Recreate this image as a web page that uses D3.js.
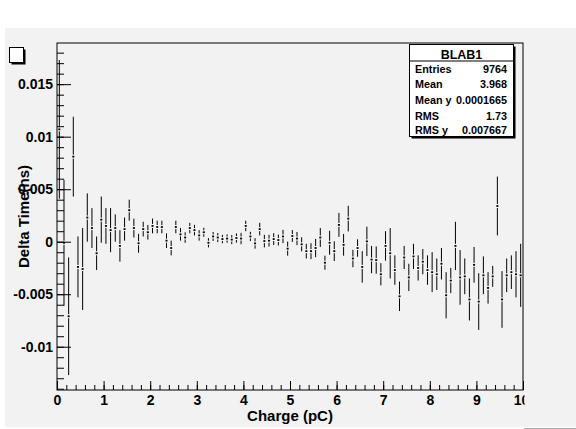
<!DOCTYPE html>
<html><head><meta charset="utf-8">
<script src="https://cdn.jsdelivr.net/npm/d3@7"></script>
<style>body{margin:0;background:#fff}svg{display:block}</style>
</head><body><svg id="c" width="576" height="429"></svg>
<script>
// ---- data ----
const binCenters = [0.05,0.15,0.25,0.35,0.45,0.55,0.65,0.75,0.85,0.95,
1.05,1.15,1.25,1.35,1.45,1.55,1.65,1.75,1.85,1.95,
2.05,2.15,2.25,2.35,2.45,2.55,2.65,2.75,2.85,2.95,
3.05,3.15,3.25,3.35,3.45,3.55,3.65,3.75,3.85,3.95,
4.05,4.15,4.25,4.35,4.45,4.55,4.65,4.75,4.85,4.95,
5.05,5.15,5.25,5.35,5.45,5.55,5.65,5.75,5.85,5.95,
6.05,6.15,6.25,6.35,6.45,6.55,6.65,6.75,6.85,6.95,
7.05,7.15,7.25,7.35,7.45,7.55,7.65,7.75,7.85,7.95,
8.05,8.15,8.25,8.35,8.45,8.55,8.65,8.75,8.85,8.95,
9.05,9.15,9.25,9.35,9.45,9.55,9.65,9.75,9.85,9.95];
const means = [0.0107,-0.0001,-0.0071,0.0081,-0.0024,-0.0026,0.0023,0.0013,-0.0011,0.0021,
0.0015,0.0011,0.0013,-0.0004,0.0012,0.0030,0.0013,-0.00015,0.0012,0.0009,
0.0015,0.0014,0.0014,0.0001,-0.0006,0.0014,0.0007,0.0004,0.0013,0.0011,
0.0006,0.0009,-0.0001,0.0005,0.0004,0.00025,0.0003,0.0002,0.00035,0.0003,
0.0015,0.0005,-0.00016,0.0012,0.00006,0.0001,0.00025,0.00016,0.0005,-0.00066,
0.00054,0.0003,-0.00025,-0.0009,-0.0009,-0.0006,0.0004,-0.0020,-0.0001,-0.0009,
0.0016,-0.0003,0.0022,-0.0016,-0.0006,-0.0024,0.00003,-0.0017,-0.00175,-0.0031,
-0.0004,-0.0011,-0.0027,-0.0052,-0.0015,-0.0034,-0.0014,-0.0025,-0.0019,-0.0027,
-0.0029,-0.0031,-0.0021,-0.0051,-0.0037,-0.0004,-0.0034,-0.0033,-0.0055,-0.0022,
-0.0057,-0.0032,-0.0044,-0.0033,0.0034,-0.0055,-0.0032,-0.0029,-0.0031,-0.0032];
const errors = [0.0066,0.0060,0.0056,0.0038,0.0029,0.0039,0.0023,0.0019,0.0016,0.0022,
0.0017,0.0021,0.0013,0.0015,0.0011,0.0010,0.0009,0.0009,0.0007,0.0007,
0.0007,0.0006,0.0006,0.0007,0.0007,0.0006,0.0006,0.0005,0.0005,0.0005,
0.0005,0.00043,0.00044,0.00043,0.00043,0.0004,0.0004,0.00043,0.00044,0.00054,
0.0005,0.00044,0.0005,0.0006,0.0006,0.00056,0.00056,0.00052,0.00063,0.00067,
0.00056,0.00063,0.00067,0.0007,0.00076,0.00087,0.0009,0.00067,0.00114,0.00094,
0.00114,0.00103,0.00122,0.00083,0.00083,0.0015,0.0014,0.0013,0.0013,0.00106,
0.0014,0.0024,0.0014,0.0014,0.0011,0.0013,0.0012,0.0012,0.0012,0.0014,
0.0019,0.0015,0.0015,0.0022,0.0012,0.0023,0.0026,0.0017,0.0020,0.0017,
0.0027,0.0018,0.0015,0.0010,0.0028,0.0027,0.0016,0.0016,0.0022,0.0030];
const xTickValues = [0,1,2,3,4,5,6,7,8,9,10];
const xTickLabels = ["0","1","2","3","4","5","6","7","8","9","10"];
const yTickValues = [-0.01,-0.005,0,0.005,0.01,0.015];
const yTickLabels = ["-0.01","-0.005","0","0.005","0.01","0.015"];
const statsTitle = "BLAB1";
const statsLabels = ["Entries","Mean","Mean y","RMS","RMS y"];
const statsValues = ["9764","3.968","0.0001665","1.73","0.007667"];
const xTitle = "Charge (pC)";
const yTitle = "Delta Time(ns)";

// ---- layout ----
const FONT = "'Liberation Sans', Arial, Helvetica, sans-serif";
const L = 57, R = 523, T = 43, B = 390;
const svg = d3.select("#c");
svg.append("rect").attr("x",0).attr("y",0).attr("width",576).attr("height",429).attr("fill","#ffffff");
svg.append("rect").attr("x",5).attr("y",28).attr("width",571).attr("height",399).attr("fill","#f2f2f2");
svg.append("line").attr("x1",524).attr("x2",576).attr("y1",428.5).attr("y2",428.5).attr("stroke","#aaaaaa");

const x = d3.scaleLinear().domain([0,10]).range([L,R]);
const y = d3.scaleLinear().domain([-0.01412,0.01892]).range([B,T]);

svg.append("defs").append("clipPath").attr("id","frameclip")
  .append("rect").attr("x",L).attr("y",T).attr("width",R-L).attr("height",B-T);
svg.append("defs").append("clipPath").attr("id","xlabclip")
  .append("rect").attr("x",0).attr("y",0).attr("width",524.5).attr("height",429);

// data
const gd = svg.append("g").attr("clip-path","url(#frameclip)");
binCenters.forEach((c,i)=>{
  const cx = x(c), cy = y(means[i]);
  const top = y(means[i]+errors[i]), bot = y(means[i]-errors[i]);
  if (cy-2 > top) gd.append("line").attr("x1",cx).attr("x2",cx).attr("y1",top).attr("y2",cy-2).attr("stroke","#000").attr("stroke-width",1);
  if (bot > cy+2) gd.append("line").attr("x1",cx).attr("x2",cx).attr("y1",cy+2).attr("y2",bot).attr("stroke","#000").attr("stroke-width",1);
  gd.append("rect").attr("x",cx-1).attr("y",cy-0.9).attr("width",2).attr("height",1.8).attr("fill","#000");
});

// axes
function styleAxis(g){
  g.select(".domain").remove();
  g.selectAll("line").attr("stroke","#000");
  g.attr("font-family",FONT).attr("font-size",14).attr("font-weight","bold");
  g.selectAll("text").attr("fill","#000");
}
const yMinor = d3.range(-14,19).map(d=>d/1000);
svg.append("g").attr("transform",`translate(${L},0)`)
  .call(d3.axisLeft(y).tickValues(yMinor).tickSize(-7).tickFormat(""))
  .call(styleAxis);
svg.append("g").attr("transform",`translate(${L},0)`)
  .call(d3.axisLeft(y).tickValues(yTickValues).tickSize(-14).tickPadding(4).tickFormat((d,i)=>yTickLabels[i]))
  .call(styleAxis);
const xMinor = d3.range(0,51).map(d=>d/5);
svg.append("g").attr("transform",`translate(0,${B})`)
  .call(d3.axisBottom(x).tickValues(xMinor).tickSize(-5).tickFormat(""))
  .call(styleAxis);
svg.append("g").attr("clip-path","url(#xlabclip)").append("g").attr("transform",`translate(0,${B})`)
  .call(d3.axisBottom(x).tickValues(xTickValues).tickSize(-9).tickPadding(5).tickFormat((d,i)=>xTickLabels[i]))
  .call(styleAxis)
  .call(g=>g.selectAll("text").attr("dx",(d)=>d===10?"-2":"0"));

// frame
svg.append("rect").attr("x",L).attr("y",T).attr("width",R-L).attr("height",B-T)
  .attr("fill","none").attr("stroke","#000").attr("stroke-width",1);

// axis titles
svg.append("text").attr("x",(L+R)/2).attr("y",420.5).attr("text-anchor","middle")
  .attr("font-family",FONT).attr("font-weight","bold").attr("font-size",15).text(xTitle);
svg.append("text").attr("transform",`translate(29,${(T+B)/2}) rotate(-90)`).attr("text-anchor","middle")
  .attr("font-family",FONT).attr("font-weight","bold").attr("font-size",15).text(yTitle);

// stats box
const sx = 409.5, sy = 44.5, sw = 104, sh = 92;
svg.append("rect").attr("x",sx+2).attr("y",sy+2).attr("width",sw).attr("height",sh).attr("fill","#000");
svg.append("rect").attr("x",sx).attr("y",sy).attr("width",sw).attr("height",sh).attr("fill","#fff").attr("stroke","#000");
svg.append("line").attr("x1",sx).attr("x2",sx+sw).attr("y1",61).attr("y2",61).attr("stroke","#000");
svg.append("text").attr("x",sx+sw/2).attr("y",58.5).attr("text-anchor","middle")
  .attr("font-family",FONT).attr("font-weight","bold").attr("font-size",12.5).text(statsTitle);
const rowY = [73.3,87.5,103.5,119.8,134];
statsLabels.forEach((lab,i)=>{
  svg.append("text").attr("x",415).attr("y",rowY[i]).attr("font-family",FONT).attr("font-weight","bold").attr("font-size",10.8).text(lab);
  svg.append("text").attr("x",507).attr("y",rowY[i]).attr("text-anchor","end").attr("font-family",FONT).attr("font-weight","bold").attr("font-size",10.8).text(statsValues[i]);
});

// empty title box
svg.append("rect").attr("x",11.5).attr("y",49.5).attr("width",14).attr("height",15).attr("fill","#000");
svg.append("rect").attr("x",9.5).attr("y",47.5).attr("width",14).attr("height",15).attr("fill","#fff").attr("stroke","#000");
</script></body></html>
